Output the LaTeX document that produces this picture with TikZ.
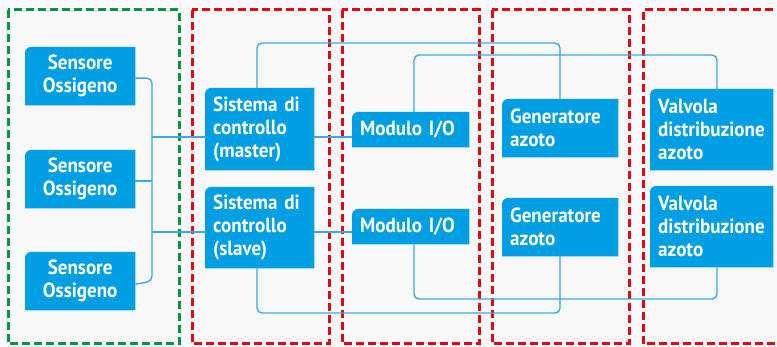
\documentclass[tikz,border=0pt]{standalone}
\usepackage{fontspec}
\setmainfont{PT Sans}[FakeStretch=0.93]
\usepackage{xcolor}
\usetikzlibrary{backgrounds}

\definecolor{unitblue}{HTML}{009FE3}
\definecolor{linkblue}{HTML}{3AAAE1}
\definecolor{zonered}{HTML}{E30613}
\definecolor{zonegreen}{HTML}{00963F}
\definecolor{pagegray}{HTML}{F8F8F8}

\tikzset{
  unit/.style={anchor=north west, inner xsep=8pt, inner ysep=0pt, text=white,
    font=\fontsize{20.5}{23}\selectfont\bfseries, align=left},
  link/.style={draw=linkblue, line width=1.4pt, rounded corners=5pt},
  zone/.style={line width=3pt, dash pattern=on 8pt off 4pt},
}

\begin{document}
\begin{tikzpicture}[x=1pt, y=-1pt]
\useasboundingbox (0,0) rectangle (777,347);

% sensors
\node[unit, align=center, text width=94pt, minimum height=58pt] (sens1) at (25,47) {Sensore\\Ossigeno};
\node[unit, align=center, text width=94pt, minimum height=58pt] (sens2) at (25,150) {Sensore\\Ossigeno};
\node[unit, align=center, text width=94pt, minimum height=58pt] (sens3) at (25,252) {Sensore\\Ossigeno};

% control systems
\node[unit, text width=93pt, minimum height=82pt] (master) at (205,88) {Sistema di\\controllo\\(master)};
\node[unit, text width=93pt, minimum height=81pt] (slave) at (205,187) {Sistema di\\controllo\\(slave)};

% I/O modules
\node[unit, text width=101pt, minimum height=35pt] (io1) at (352,112) {Modulo I/O};
\node[unit, text width=101pt, minimum height=35pt] (io2) at (352,209) {Modulo I/O};

% nitrogen generators
\node[unit, text width=100pt, minimum height=58pt] (gen1) at (502,99) {Generatore\\azoto};
\node[unit, text width=100pt, minimum height=58pt] (gen2) at (502,198) {Generatore\\azoto};

% distribution valves
\node[unit, text width=107pt, minimum height=81pt] (valve1) at (650,89) {Valvola\\distribuzione\\azoto};
\node[unit, text width=107pt, minimum height=81pt] (valve2) at (650,186) {Valvola\\distribuzione\\azoto};

% box fills, only the top left corner is rounded
\begin{scope}[on background layer]
  \fill[pagegray] (0,0) rectangle (777,347);
  \foreach \n in {sens1,sens2,sens3,master,slave,io1,io2,gen1,gen2,valve1,valve2}
    \fill[unitblue] (\n.west) [rounded corners=6pt] -- (\n.north west) -- (\n.north)
      [sharp corners] -- (\n.north east) -- (\n.south east) -- (\n.south west) -- cycle;
\end{scope}

% zones
\draw[zone, zonegreen] (8,10) rectangle (179,344);
\foreach \x in {192,342,492}
  \draw[zone, zonered] (\x,10) rectangle ++(137,334);
\draw[zone, zonered] (785,10) -- (643,10) -- (643,344) -- (785,344);

% rows and taps of the wiring
\coordinate (bus) at (152,0);
\coordinate (mrow) at (0,137);
\coordinate (srow) at (0,232);
\coordinate (toprow) at (0,43);
\coordinate (top2) at (0,55);
\coordinate (botrow) at (0,313);
\coordinate (bot2) at (0,299);
\coordinate (tapA) at (257,0);
\coordinate (tapB) at (414,0);
\coordinate (tapC) at (560,0);
\coordinate (tapD) at (717,0);

% sensor bus
\draw[link] ([yshift=-2pt]sens1.east) -| (bus |- sens3.east) -- ([yshift=-3pt]sens3.east);
\draw[link] ([yshift=-2pt]sens2.east) -- ([yshift=-2pt]bus |- sens2.east);
\draw[link] (bus |- mrow) -- (master.west |- mrow);
\draw[link] (bus |- srow) -- (slave.west |- srow);

% controllers to I/O
\draw[link] (master.east |- mrow) -- (io1.west |- mrow);
\draw[link] (slave.east |- srow) -- (io2.west |- srow);

% upper loops
\draw[link] (tapA |- master.north) |- (tapC |- toprow) -- (tapC |- gen1.north);
\draw[link] (tapB |- io1.north) |- (tapD |- top2) -- (tapD |- valve1.north);

% lower loops
\draw[link] (tapA |- slave.south) |- (tapC |- botrow) -- (tapC |- gen2.south);
\draw[link] (tapB |- io2.south) |- (tapD |- bot2) -- (tapD |- valve2.south);

\end{tikzpicture}
\end{document}
